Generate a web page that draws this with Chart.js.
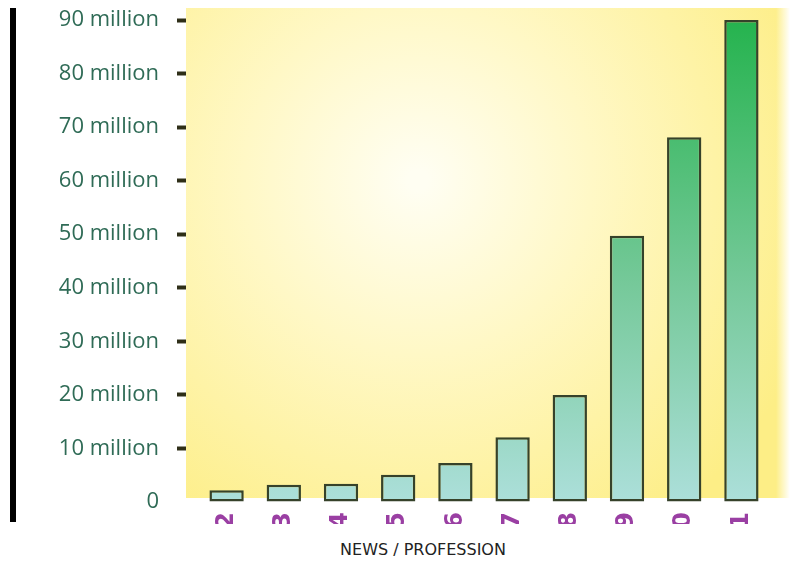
<!DOCTYPE html>
<html>
<head>
<meta charset="utf-8">
<script src="https://cdn.jsdelivr.net/npm/chart.js@4/dist/chart.umd.min.js"></script>
<style>
  body { margin: 0; background: #fff; }
  #wrap { position: absolute; left: 0; top: 0; width: 800px; height: 524px; overflow: hidden; }
  #bar { position: absolute; left: 10px; top: 8px; width: 6px; height: 514px; background: #000; }
  #caption { position: absolute; left: 0; top: 540px; width: 846px; text-align: center;
    font: 16px "DejaVu Sans", sans-serif; color: #222; }
</style>
</head>
<body>
<div id="wrap"><canvas id="chart" width="800" height="563"></canvas></div>
<div id="bar"></div>
<div id="caption">NEWS / PROFESSION</div>
<script>
const years = ["2", "3", "4", "5", "6", "7", "8", "9", "0", "1"];
const users = [2200000, 3200000, 3400000, 5100000, 7300000, 12100000, 20000000, 49700000, 68100000, 90000000];
const yTicks = [0, 10000000, 20000000, 30000000, 40000000, 50000000, 60000000, 70000000, 80000000, 90000000];

// yellow glow behind the bars
const backdrop = {
  id: "backdrop",
  beforeDatasetsDraw(chart) {
    const { ctx, chartArea: a } = chart;
    const x0 = a.left - 12, x1 = a.right + 20, y0 = a.top - 12, y1 = a.bottom - 4;
    const g = ctx.createRadialGradient(a.left + 220, a.top + 160, 10, a.left + 220, a.top + 160, 420);
    g.addColorStop(0, "#fffef2");
    g.addColorStop(0.4, "#fff8c6");
    g.addColorStop(1, "#fdee86");
    ctx.save();
    ctx.fillStyle = g;
    ctx.fillRect(x0, y0, x1 - x0, y1 - y0);
    const fade = ctx.createLinearGradient(x1 - 14, 0, x1, 0);
    fade.addColorStop(0, "rgba(255,255,255,0)");
    fade.addColorStop(1, "rgba(255,255,255,1)");
    ctx.fillStyle = fade;
    ctx.fillRect(x1 - 14, y0, 14, y1 - y0);
    ctx.restore();
  }
};

function barFill(context) {
  const { ctx, chartArea: a } = context.chart;
  if (!a) return "#8fd3b0";
  const g = ctx.createLinearGradient(0, a.bottom, 0, a.top);
  g.addColorStop(0, "#acdfda");
  g.addColorStop(0.45, "#76c99a");
  g.addColorStop(1, "#25b34e");
  return g;
}

new Chart(document.getElementById("chart"), {
  type: "bar",
  data: {
    labels: years,
    datasets: [{
      data: users,
      backgroundColor: barFill,
      borderColor: "#36422a",
      borderWidth: 2.5,
      borderSkipped: false,
      categoryPercentage: 1,
      barPercentage: 0.6
    }]
  },
  options: {
    responsive: false,
    animation: false,
    layout: { padding: { top: 20, right: 30, left: 0, bottom: 0 } },
    plugins: { legend: { display: false }, tooltip: { enabled: false } },
    scales: {
      x: {
        grid: { display: false },
        border: { display: false },
        ticks: {
          minRotation: 90, maxRotation: 90, padding: 2,
          color: "#9a3fa3",
          font: { family: "DejaVu Sans", size: 24, weight: "bold" }
        },
        afterFit(scale) { scale.height = 61; }
      },
      y: {
        min: 0, max: 90000000,
        afterBuildTicks(scale) { scale.ticks = yTicks.map(v => ({ value: v })); },
        grid: {
          drawOnChartArea: false,
          tickLength: 21,
          tickWidth: 4,
          tickColor: c => c.tick && c.tick.value === 0 ? "rgba(0,0,0,0)" : "#2e2e18"
        },
        border: { display: false },
        ticks: {
          padding: 18,
          color: "#2f6b56",
          font: { family: "Open Sans", size: 22 },
          callback: v => v === 0 ? "0" : (v / 1000000) + " million"
        },
        afterFit(scale) {
          scale.width = 198;
          scale.paddingTop = 0;
          scale.paddingBottom = 0;
        }
      }
    }
  },
  plugins: [backdrop]
});
</script>
</body>
</html>
